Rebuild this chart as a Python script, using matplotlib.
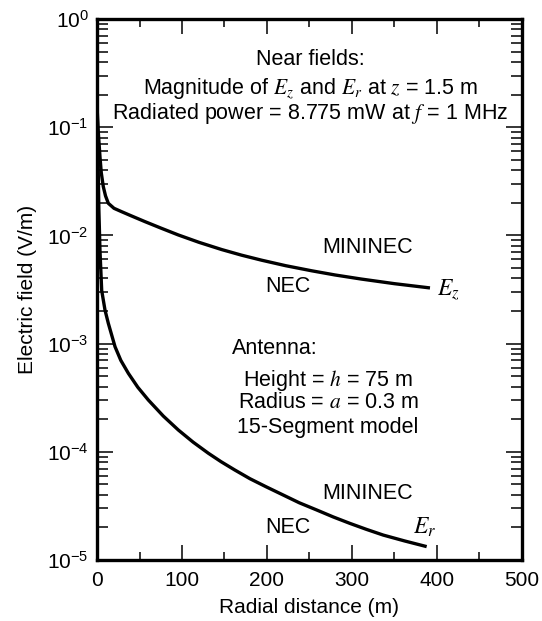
import matplotlib
matplotlib.use("Agg")
import matplotlib.pyplot as plt
from matplotlib.ticker import LogLocator, FixedLocator, NullFormatter

plt.rcParams["font.family"] = ["Liberation Sans", "DejaVu Sans"]
plt.rcParams["mathtext.fontset"] = "stix"

# Vertical field E_z (V/m) vs radial distance (m)
r_ez = [0.3, 1.5, 3.5, 5, 7.4, 10, 13.3, 20, 29, 40, 56.5, 75, 95.6, 120,
        146.7, 170, 193.7, 222, 252.6, 280, 311, 350, 391.8]
e_ez = [0.14, 0.09, 0.053, 0.038, 0.0282, 0.0232, 0.0198, 0.0178, 0.01656,
        0.0152, 0.0134, 0.0117, 0.0101, 0.00863, 0.0074, 0.00657, 0.0059,
        0.00525, 0.00471, 0.00431, 0.00395, 0.00358, 0.00327]

# Radial field E_r (V/m) vs radial distance (m)
r_er = [0.3, 1.2, 2.2, 3.5, 5.5, 9.4, 13.3, 21.2, 28, 36.9, 48, 60.4, 78,
        95.7, 113, 131, 146, 162, 180, 199, 219, 238, 258.5, 278, 297.6,
        317, 336.8, 362, 387.9]
e_er = [0.13, 0.05, 0.017, 0.0072, 0.0031, 0.00204, 0.00154, 9.36e-4,
        7.0e-4, 5.31e-4, 3.95e-4, 3.01e-4, 2.14e-4, 1.59e-4, 1.23e-4,
        9.7e-5, 8.1e-5, 6.8e-5, 5.64e-5, 4.75e-5, 3.99e-5, 3.38e-5,
        2.90e-5, 2.5e-5, 2.18e-5, 1.92e-5, 1.70e-5, 1.5e-5, 1.33e-5]

x_ticks = [0, 100, 200, 300, 400, 500]
x_minor = [50, 150, 250, 350, 450]

fig = plt.figure(figsize=(5.42, 6.21), dpi=100)
ax = fig.add_axes([0.179, 0.0982, 0.784, 0.8712])

ax.plot(r_ez, e_ez, color="black", lw=2.4, solid_capstyle="butt",
        solid_joinstyle="round")
ax.plot(r_er, e_er, color="black", lw=2.4, solid_capstyle="butt",
        solid_joinstyle="round")

ax.set_yscale("log")
ax.set_xlim(0, 500)
ax.set_ylim(1e-5, 1)
ax.xaxis.set_major_locator(FixedLocator(x_ticks))
ax.xaxis.set_minor_locator(FixedLocator(x_minor))
ax.yaxis.set_major_locator(LogLocator(base=10, numticks=10))
ax.yaxis.set_minor_locator(LogLocator(base=10, subs=range(2, 10), numticks=20))
ax.yaxis.set_minor_formatter(NullFormatter())

for s in ax.spines.values():
    s.set_linewidth(2.4)

fs = 15
ax.tick_params(axis="both", which="both", direction="in", top=True, right=True,
               labelsize=fs, width=1.1, colors="black")
ax.tick_params(axis="x", which="major", length=11, pad=8)
ax.tick_params(axis="x", which="minor", length=6)
ax.tick_params(axis="y", which="major", length=11.5, pad=6)
ax.tick_params(axis="y", which="minor", length=7.7)

ax.set_xlabel("Radial distance (m)", fontsize=fs, labelpad=6)
ax.set_ylabel("Electric field (V/m)", fontsize=fs, labelpad=7.5)

afs = 15.5
mfs = 17
ax.text(251, 0.418, "Near fields:", ha="center", va="center", fontsize=afs)
ax.text(251, 0.230, r"Magnitude of $E_z$ and $E_r$ at $z$ = 1.5 m",
        ha="center", va="center", fontsize=afs)
ax.text(251, 0.135, r"Radiated power = 8.775 mW at $f$ = 1 MHz",
        ha="center", va="center", fontsize=afs)

ax.text(318, 0.00765, "MININEC", ha="center", va="center", fontsize=afs)
ax.text(224, 0.00334, "NEC", ha="center", va="center", fontsize=afs)
ax.text(400, 0.0031, r"$E_z$", ha="left", va="center", fontsize=mfs)

ax.text(159, 0.00091, "Antenna:", ha="left", va="center", fontsize=afs)
ax.text(272, 0.000461, r"Height = $h$ = 75 m", ha="center", va="center", fontsize=afs)
ax.text(272, 0.000283, r"Radius = $a$ = 0.3 m", ha="center", va="center", fontsize=afs)
ax.text(272, 0.000169, "15-Segment model", ha="center", va="center", fontsize=afs)

ax.text(318, 4.16e-5, "MININEC", ha="center", va="center", fontsize=afs)
ax.text(225, 1.98e-5, "NEC", ha="center", va="center", fontsize=afs)
ax.text(372, 2.0e-5, r"$E_r$", ha="left", va="center", fontsize=mfs)

fig.savefig("out.png", dpi=100)
